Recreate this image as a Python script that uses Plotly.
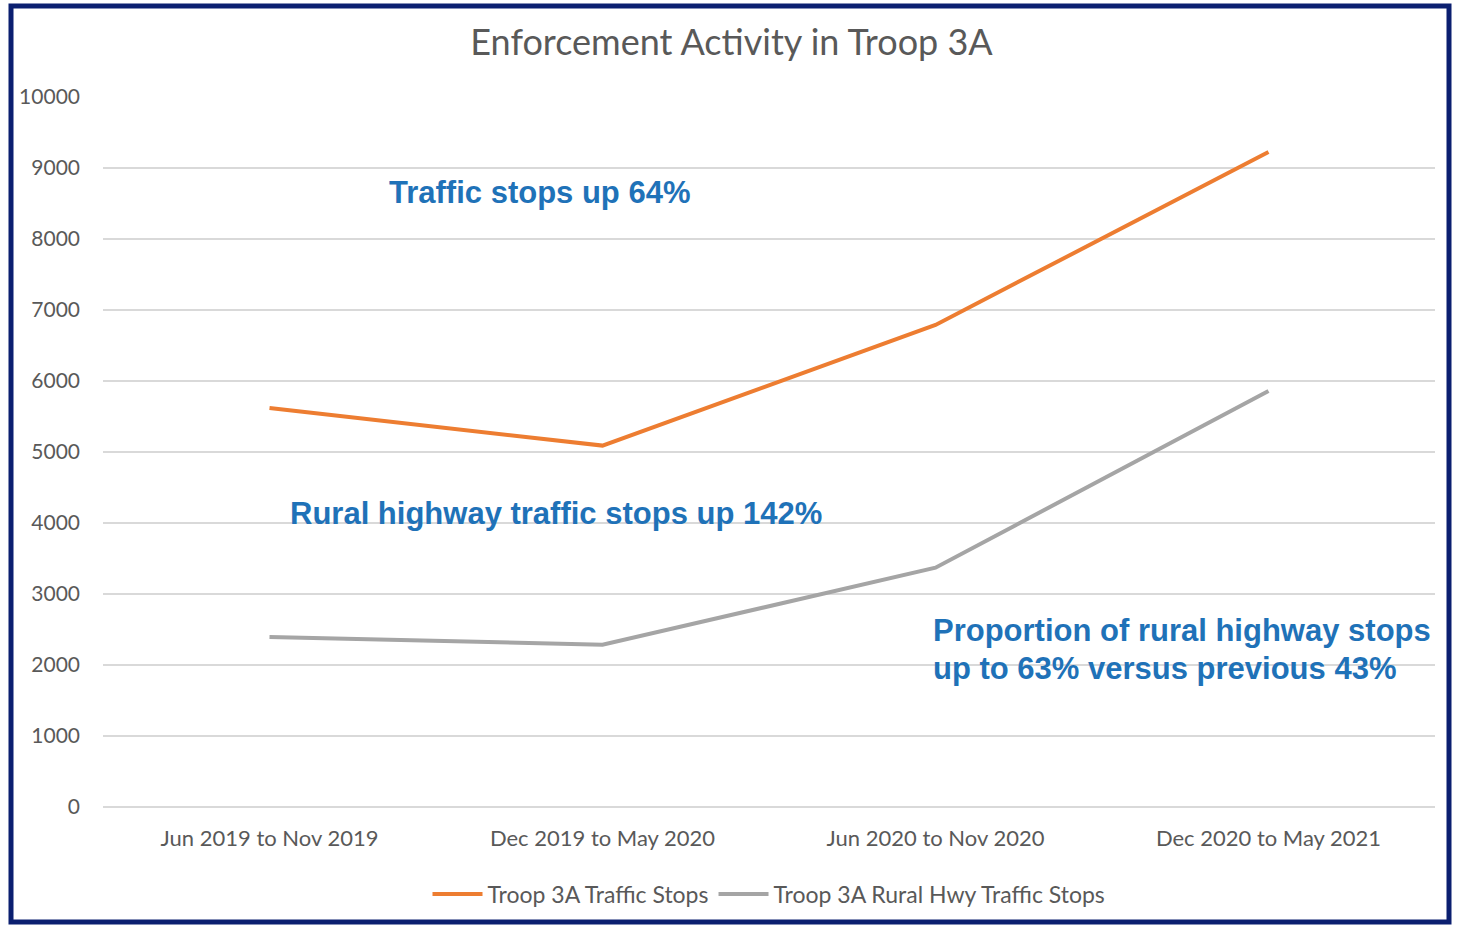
import plotly.graph_objects as go

categories = ["Jun 2019 to Nov 2019", "Dec 2019 to May 2020", "Jun 2020 to Nov 2020", "Dec 2020 to May 2021"]
traffic_stops = [5620, 5090, 6790, 9225]
rural_hwy_stops = [2395, 2285, 3370, 5860]
y_ticks = [0, 1000, 2000, 3000, 4000, 5000, 6000, 7000, 8000, 9000, 10000]

W, H = 1463, 927
L, R, T, B = 103, 28, 97, 120
pw, ph = W - L - R, H - T - B

def px(x):
    return (x - L) / pw

def py(y):
    return (H - B - y) / ph

ytick_font = dict(family="Lato, Carlito, sans-serif", size=21, color="#595959")
xtick_font = dict(family="Lato, Carlito, sans-serif", size=22, color="#595959")
legend_font = dict(family="Lato, Carlito, sans-serif", size=23, color="#595959")
ann_font = dict(family="Arial, Liberation Sans, sans-serif", size=31, color="#1F72B8")

fig = go.Figure()
fig.add_trace(go.Scatter(x=categories, y=traffic_stops, mode="lines", name="Troop 3A Traffic Stops",
                         line=dict(color="#ED7D31", width=4)))
fig.add_trace(go.Scatter(x=categories, y=rural_hwy_stops, mode="lines", name="Troop 3A Rural Hwy Traffic Stops",
                         line=dict(color="#A5A5A5", width=4)))

fig.update_layout(
    width=W, height=H,
    margin=dict(l=L, r=R, t=T, b=B),
    paper_bgcolor="white", plot_bgcolor="white",
    title=dict(text="Enforcement Activity in Troop 3A", x=0.5, xanchor="center",
               y=1 - 42 / H, yanchor="middle",
               font=dict(family="Lato, Carlito, sans-serif", size=36, color="#595959")),
    showlegend=True,
    legend=dict(orientation="h", x=0.5, xanchor="center", y=py(894), yanchor="middle",
                font=legend_font, itemwidth=50),
    xaxis=dict(type="category", range=[-0.5, 3.5], showgrid=False, zeroline=False, showline=False,
               tickfont=xtick_font, ticks="", ticklabelstandoff=16),
    yaxis=dict(range=[0, 10000], tickvals=y_ticks, tickformat="d", showgrid=True, gridcolor="#D9D9D9",
               gridwidth=1.5, zeroline=True, zerolinecolor="#D9D9D9", zerolinewidth=1.5, showline=False,
               tickfont=ytick_font, ticks="", ticklabelstandoff=22),
)

fig.add_annotation(text="<b>Traffic stops up 64%</b>", xref="paper", yref="paper",
                   x=px(387), y=py(192), xanchor="left", yanchor="middle", showarrow=False, font=ann_font)
fig.add_annotation(text="<b>Rural highway traffic stops up 142%</b>", xref="paper", yref="paper",
                   x=px(288), y=py(513), xanchor="left", yanchor="middle", showarrow=False, font=ann_font)
fig.add_annotation(text="<b>Proportion of rural highway stops</b>", xref="paper", yref="paper",
                   x=px(931), y=py(630), xanchor="left", yanchor="middle", showarrow=False, font=ann_font)
fig.add_annotation(text="<b>up to 63% versus previous 43%</b>", xref="paper", yref="paper",
                   x=px(931), y=py(668), xanchor="left", yanchor="middle", showarrow=False, font=ann_font)

# dark navy frame around the picture
fig.add_shape(type="rect", xref="paper", yref="paper",
              x0=px(11), x1=px(1449), y0=py(922), y1=py(6),
              line=dict(color="#0B1F70", width=5), fillcolor="rgba(0,0,0,0)", layer="above")

fig.write_html("out.html", config={"displayModeBar": False},
               post_script="document.body.style.margin='0';")
